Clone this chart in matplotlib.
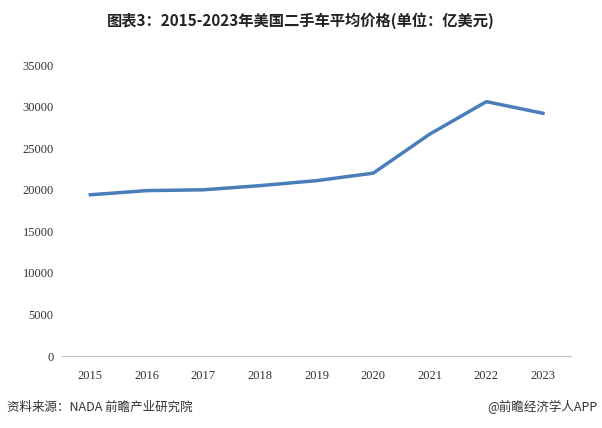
import matplotlib
matplotlib.use("Agg")
import matplotlib.pyplot as plt

plt.rcParams['font.family'] = ['Noto Sans CJK SC', 'DejaVu Sans']

years = [2015, 2016, 2017, 2018, 2019, 2020, 2021, 2022, 2023]
prices = [19400, 19900, 20000, 20500, 21100, 22000, 26700, 30600, 29200]
yticks = list(range(0, 35001, 5000))

fig = plt.figure(figsize=(6.02, 4.28), dpi=100)
ax = fig.add_axes([0.103, 0.168, 0.846, 0.68])
ax.plot(years, prices, color="#4a7ebb", linewidth=2.5)
ax.set_xlim(2014.5, 2023.5)
ax.set_ylim(0, 35000)
ax.set_xticks(years)
ax.set_yticks(yticks)
tick_font = {"family": "Liberation Serif", "size": 9}
ax.set_xticklabels([str(y) for y in years], fontdict=tick_font, color="#333333")
ax.set_yticklabels([str(v) for v in yticks], fontdict=tick_font, color="#333333")
for s in ["top", "right", "left"]:
    ax.spines[s].set_visible(False)
ax.spines["bottom"].set_color("#bfbfbf")
ax.tick_params(axis="both", length=0, pad=6)
ax.tick_params(axis="x", pad=10)

fig.text(0.5, 0.952, "图表3：2015-2023年美国二手车平均价格(单位：亿美元)", ha="center", va="center",
         fontsize=11, fontweight="bold", color="#222222")
fig.text(0.012, 0.048, "资料来源：NADA 前瞻产业研究院", ha="left", va="center", fontsize=9, color="#333333")
fig.text(0.992, 0.048, "@前瞻经济学人APP", ha="right", va="center", fontsize=9, color="#333333")

fig.savefig("out.png", dpi=100)
